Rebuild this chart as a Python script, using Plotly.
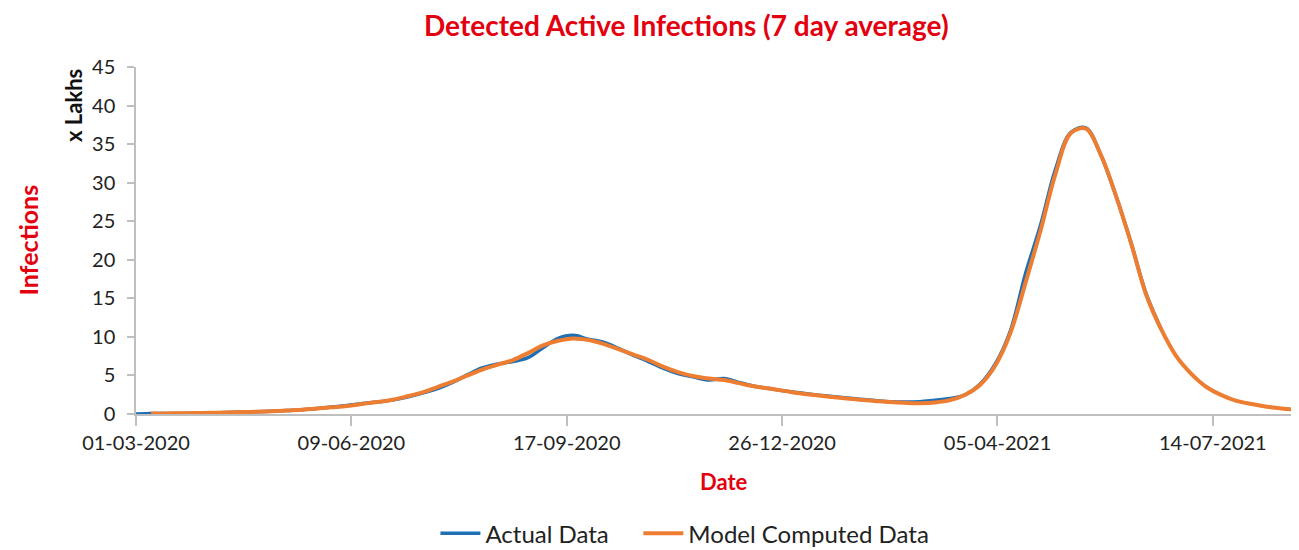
import pandas as pd
import plotly.graph_objects as go

# ---------------- data ----------------
start_date = "2020-03-01"
step_days = 7

actual_values = [
    0.0, 0.05, 0.06, 0.08, 0.1, 0.14, 0.2, 0.25, 0.3, 0.36,
    0.45, 0.56, 0.72, 0.9, 1.1, 1.35, 1.55, 1.8, 2.2, 2.7,
    3.3, 4.1, 5.1, 6.0, 6.5, 6.8, 7.3, 8.6, 9.8, 10.2,
    9.7, 9.3, 8.5, 7.6, 6.8, 5.9, 5.2, 4.8, 4.4, 4.6,
    4.1, 3.6, 3.3, 3.0, 2.75, 2.5, 2.3, 2.1, 1.9, 1.75,
    1.6, 1.55, 1.6, 1.8, 2.0, 2.5, 3.9, 6.5, 10.8, 18.2,
    24.5, 31.8, 36.5, 37.1, 33.6, 28.3, 22.2, 15.6, 11.0,
]

model_values = [
    None, 0.05, 0.07, 0.1, 0.12, 0.15, 0.2, 0.25, 0.3, 0.37,
    0.45, 0.55, 0.7, 0.87, 1.05, 1.3, 1.55, 1.85, 2.3, 2.8,
    3.5, 4.2, 5.0, 5.8, 6.4, 7.0, 7.9, 8.9, 9.5, 9.8,
    9.6, 9.1, 8.4, 7.7, 7.0, 6.1, 5.4, 4.9, 4.6, 4.4,
    4.0, 3.6, 3.3, 3.0, 2.7, 2.45, 2.25, 2.05, 1.85, 1.7,
    1.55, 1.45, 1.4, 1.5, 1.8, 2.5, 3.8, 6.3, 10.5, 17.0,
    23.8, 31.2, 36.4, 37.0, 33.6, 28.3, 22.2, 15.5, 11.0, 7.5,
    5.2, 3.5, 2.45, 1.7, 1.3, 0.95, 0.72, 0.55,
]

tick_dates = ["2020-03-01", "2020-06-09", "2020-09-17", "2020-12-26", "2021-04-05", "2021-07-14"]
tick_labels = ["01-03-2020", "09-06-2020", "17-09-2020", "26-12-2020", "05-04-2021", "14-07-2021"]
y_ticks = [0, 5, 10, 15, 20, 25, 30, 35, 40, 45]

actual_dates = pd.date_range(start_date, periods=len(actual_values), freq=f"{step_days}D")
model_dates = pd.date_range(start_date, periods=len(model_values), freq=f"{step_days}D")

FONT = "Lato"
RED = "#E3000F"
PAD = "\u00a0" * 4  # extra gap between legend entries

fig = go.Figure()
fig.add_trace(go.Scatter(
    x=actual_dates, y=actual_values, name="Actual Data" + PAD, mode="lines",
    line=dict(color="#1F6FB5", width=3.5, shape="spline", smoothing=1.0),
))
fig.add_trace(go.Scatter(
    x=model_dates, y=model_values, name="Model Computed Data", mode="lines",
    line=dict(color="#ED7D31", width=4, shape="spline", smoothing=1.0),
    connectgaps=False,
))

# the page body adds an 8px offset, so the figure is 1291x542
fig.update_layout(
    width=1291, height=542,
    margin=dict(l=128, r=0, t=59, b=136, autoexpand=False),
    paper_bgcolor="white", plot_bgcolor="white",
    font=dict(family=FONT, size=20, color="#222222"),
    showlegend=True,
    legend=dict(
        orientation="h", x=0.472, xanchor="center", y=-0.345, yanchor="middle",
        font=dict(family=FONT, size=24, color="#222222"),
        itemwidth=40, traceorder="normal", bgcolor="rgba(0,0,0,0)",
    ),
    annotations=[
        dict(text="<b>Detected Active Infections (7 day average)</b>", xref="paper", yref="paper",
             x=0.473, y=1.0, yshift=42, xanchor="center", yanchor="middle", showarrow=False,
             font=dict(family=FONT, size=28, color=RED)),
        dict(text="<b>Date</b>", xref="paper", yref="paper", x=0.506, y=0, yshift=-67,
             xanchor="center", yanchor="middle", showarrow=False,
             font=dict(family=FONT, size=22, color=RED)),
        dict(text="<b>Infections</b>", xref="paper", yref="paper", x=0, xshift=-109, y=0.5, yshift=0,
             xanchor="center", yanchor="middle", showarrow=False, textangle=-90,
             font=dict(family=FONT, size=25, color=RED)),
        dict(text="<b>x Lakhs</b>", xref="paper", yref="paper", x=0, xshift=-63, y=1.0, yshift=-39,
             xanchor="center", yanchor="middle", showarrow=False, textangle=-90,
             font=dict(family=FONT, size=22, color="#111111")),
    ],
)

fig.update_xaxes(
    type="date", range=["2020-03-01", "2021-08-23"],
    tickvals=tick_dates, ticktext=tick_labels,
    showgrid=False, zeroline=False,
    showline=True, linecolor="#BFBFBF", linewidth=1.5,
    ticks="outside", ticklen=10, tickcolor="#BFBFBF", tickwidth=1.5,
    tickfont=dict(family=FONT, size=20, color="#222222"),
)
fig.update_yaxes(
    range=[0, 45], tickvals=y_ticks,
    showgrid=False, zeroline=False,
    showline=True, linecolor="#BFBFBF", linewidth=1.5,
    ticks="outside", ticklen=7, tickcolor="#BFBFBF", tickwidth=1.5,
    tickfont=dict(family=FONT, size=20, color="#222222"),
    ticklabelstandoff=8,
)

fig.write_html("out.html")
